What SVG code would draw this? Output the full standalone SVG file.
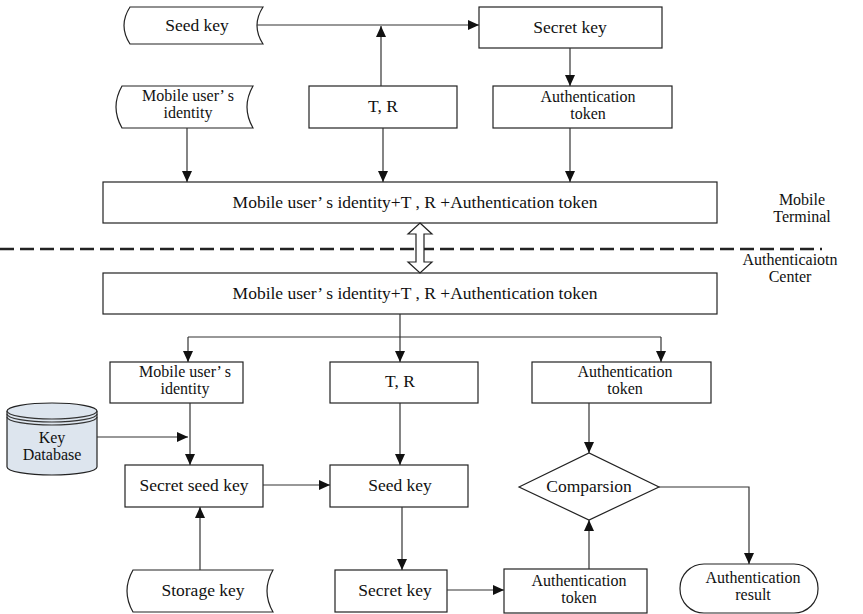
<svg xmlns="http://www.w3.org/2000/svg" width="863" height="614" viewBox="0 0 863 614">
  <style>
    .box { fill: #ffffff; stroke: #222; stroke-width: 1.2; }
    .line { fill: none; stroke: #333; stroke-width: 1.2; }
    .arrow { fill: none; stroke: #333; stroke-width: 1.2; marker-end: url(#head); }
    text { font-family: "Liberation Serif", "Times New Roman", "DejaVu Serif", serif; font-size: 16px; fill: #111; text-anchor: middle; }
    .big { font-size: 17.5px; }
  </style>
  <defs>
    <marker id="head" markerUnits="userSpaceOnUse" markerWidth="12" markerHeight="10" refX="11" refY="5" orient="auto">
      <path d="M0,0 L11,5 L0,10 Z" fill="#111"/>
    </marker>
  </defs>

  <rect width="863" height="614" fill="#ffffff"/>

  <!-- terminal / center divider -->
  <line x1="0" y1="249" x2="822" y2="249" stroke="#222" stroke-width="2.5" stroke-dasharray="14,6"/>
  <g id="label-terminal">
    <text x="802" y="205">Mobile</text>
    <text x="802" y="222">Terminal</text>
  </g>
  <g id="label-center">
    <text x="790" y="265">Authenticaiotn</text>
    <text x="790" y="282">Center</text>
  </g>

  <!-- Mobile terminal side -->
  <g id="seed-key-top">
    <path class="box" d="M130,7 H263 Q251,25.5 263,44 H130 Q118,25.5 130,7 Z"/>
    <text class="big" x="197" y="31">Seed key</text>
  </g>
  <g id="secret-key-top">
    <rect class="box" x="479" y="7" width="183" height="41"/>
    <text class="big" x="570" y="33">Secret key</text>
  </g>
  <g id="identity-top">
    <path class="box" d="M122,86 H253 Q241,107 253,128 H122 Q110,107 122,86 Z"/>
    <text x="188" y="101">Mobile user’ s</text>
    <text x="188" y="118">identity</text>
  </g>
  <g id="tr-top">
    <rect class="box" x="309" y="86" width="148" height="42"/>
    <text class="big" x="383" y="112">T, R</text>
  </g>
  <g id="token-top">
    <rect class="box" x="493" y="86" width="179" height="42"/>
    <text x="588" y="102">Authentication</text>
    <text x="588" y="119">token</text>
  </g>
  <g id="message-terminal">
    <rect class="box" x="103" y="182" width="614" height="41"/>
    <text class="big" x="415" y="208">Mobile user’ s identity+T , R +Authentication token</text>
  </g>

  <!-- Authentication center side -->
  <g id="message-center">
    <rect class="box" x="103" y="273" width="614" height="41"/>
    <text class="big" x="415" y="299">Mobile user’ s identity+T , R +Authentication token</text>
  </g>
  <g id="identity-center">
    <rect class="box" x="110" y="362" width="133" height="41"/>
    <text x="185" y="377">Mobile user’ s</text>
    <text x="185" y="394">identity</text>
  </g>
  <g id="tr-center">
    <rect class="box" x="330" y="362" width="148" height="41"/>
    <text class="big" x="400" y="387">T, R</text>
  </g>
  <g id="token-center">
    <rect class="box" x="532" y="362" width="179" height="41"/>
    <text x="625" y="377">Authentication</text>
    <text x="625" y="394">token</text>
  </g>
  <g id="key-database">
    <path d="M7,411 A45,8 0 0 1 97,411 V467 A45,8 0 0 1 7,467 Z" fill="#dde5ee" stroke="#222" stroke-width="1.2"/>
    <path class="line" d="M7,411 A45,8 0 0 0 97,411"/>
    <path class="line" d="M7,414 A45,8 0 0 0 97,414"/>
    <path class="line" d="M7,417 A45,8 0 0 0 97,417"/>
    <text x="52" y="443">Key</text>
    <text x="52" y="460">Database</text>
  </g>
  <g id="secret-seed-key">
    <rect class="box" x="125" y="465" width="138" height="42"/>
    <text class="big" x="194" y="491">Secret seed key</text>
  </g>
  <g id="seed-key-center">
    <rect class="box" x="330" y="465" width="138" height="42"/>
    <text class="big" x="400" y="491">Seed key</text>
  </g>
  <g id="comparison">
    <path class="box" d="M519,487 L589,453 L659,487 L589,520 Z"/>
    <text class="big" x="589" y="492">Comparsion</text>
  </g>
  <g id="storage-key">
    <path class="box" d="M133,570 H273 Q261,591 273,612 H133 Q121,591 133,570 Z"/>
    <text class="big" x="203" y="596">Storage key</text>
  </g>
  <g id="secret-key-center">
    <rect class="box" x="335" y="570" width="112" height="42"/>
    <text class="big" x="395" y="596">Secret key</text>
  </g>
  <g id="token-computed">
    <rect class="box" x="504" y="569" width="143" height="44"/>
    <text x="579" y="586">Authentication</text>
    <text x="579" y="603">token</text>
  </g>
  <g id="auth-result">
    <rect class="box" x="680" y="564" width="138" height="49" rx="24" ry="24"/>
    <text x="753" y="583">Authentication</text>
    <text x="753" y="600">result</text>
  </g>

  <!-- connectors -->
  <g id="connectors">
    <line class="arrow" x1="257" y1="25" x2="479" y2="25"/>
    <line class="arrow" x1="381" y1="86" x2="381" y2="26"/>
    <line class="arrow" x1="570" y1="48" x2="570" y2="86"/>
    <line class="arrow" x1="187" y1="128" x2="187" y2="182"/>
    <line class="arrow" x1="383" y1="128" x2="383" y2="182"/>
    <line class="arrow" x1="570" y1="128" x2="570" y2="182"/>

    <!-- two-way transfer between terminal and center -->
    <path d="M420,223 L432,234 L424,234 L424,262 L432,262 L420,273 L408,262 L416,262 L416,234 L408,234 Z" fill="#ffffff" stroke="#222" stroke-width="1.2"/>

    <line class="line" x1="400" y1="314" x2="400" y2="337"/>
    <line class="line" x1="188" y1="337" x2="661" y2="337"/>
    <line class="arrow" x1="188" y1="337" x2="188" y2="362"/>
    <line class="arrow" x1="400" y1="337" x2="400" y2="362"/>
    <line class="arrow" x1="661" y1="337" x2="661" y2="362"/>

    <line class="arrow" x1="190" y1="403" x2="190" y2="465"/>
    <line class="arrow" x1="97" y1="437" x2="188" y2="437"/>
    <line class="arrow" x1="400" y1="403" x2="400" y2="465"/>
    <line class="arrow" x1="589" y1="403" x2="589" y2="453"/>
    <line class="arrow" x1="263" y1="485" x2="330" y2="485"/>
    <line class="arrow" x1="200" y1="570" x2="200" y2="507"/>
    <line class="arrow" x1="402" y1="507" x2="402" y2="570"/>
    <line class="arrow" x1="447" y1="590" x2="504" y2="590"/>
    <line class="arrow" x1="589" y1="569" x2="589" y2="520"/>
    <polyline class="arrow" points="659,487 749,487 749,564"/>
  </g>
</svg>
